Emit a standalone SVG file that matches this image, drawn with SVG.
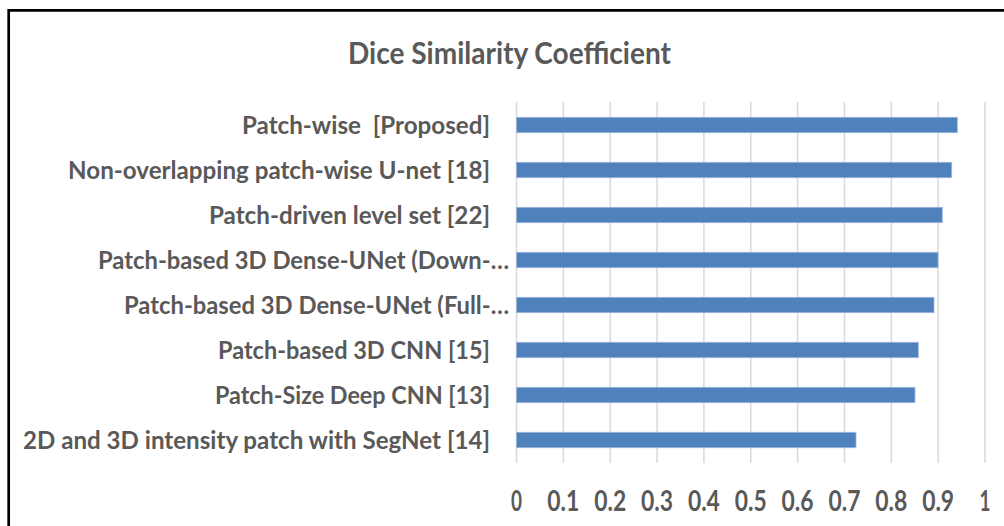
<svg xmlns="http://www.w3.org/2000/svg" width="1004" height="526" viewBox="0 0 1004 526">
  <style>
    .title { font-family: Lato, "Open Sans", "Liberation Sans", sans-serif; font-weight: 700; font-size: 30px; fill: #595959; }
    .cat { font-family: Lato, "Open Sans", "Liberation Sans", sans-serif; font-weight: 700; font-size: 25px; fill: #595959; text-anchor: end; }
    .tick { font-family: Lato, "Open Sans", "Liberation Sans", sans-serif; font-weight: 700; font-size: 28px; fill: #595959; text-anchor: middle; }
    .grid { stroke: #d9d9d9; stroke-width: 1.5; fill: none; }
    .bar { fill: #4f81bd; stroke: #9cb6dc; stroke-width: 0.8; }
    .frame { stroke: #000; stroke-width: 2.7; fill: none; }
  </style>

  <rect width="1004" height="526" fill="#fff"/>

  <!-- chart border: only the top and left edges fall inside the view -->
  <path class="frame" d="M8.7 530 V10.3 H1010"/>

  <text id="chart-title" class="title" x="509.5" y="63.5" text-anchor="middle" textLength="323" lengthAdjust="spacingAndGlyphs">Dice Similarity Coefficient</text>

  <!-- value axis gridlines, 0 to 1 in steps of 0.1 -->
  <g id="gridlines">
    <line class="grid" x1="516.5" y1="102" x2="516.5" y2="463"/>
    <line class="grid" x1="563.35" y1="102" x2="563.35" y2="463"/>
    <line class="grid" x1="610.2" y1="102" x2="610.2" y2="463"/>
    <line class="grid" x1="657.05" y1="102" x2="657.05" y2="463"/>
    <line class="grid" x1="703.9" y1="102" x2="703.9" y2="463"/>
    <line class="grid" x1="750.75" y1="102" x2="750.75" y2="463"/>
    <line class="grid" x1="797.6" y1="102" x2="797.6" y2="463"/>
    <line class="grid" x1="844.45" y1="102" x2="844.45" y2="463"/>
    <line class="grid" x1="891.3" y1="102" x2="891.3" y2="463"/>
    <line class="grid" x1="938.15" y1="102" x2="938.15" y2="463"/>
    <line class="grid" x1="985" y1="102" x2="985" y2="463"/>
  </g>

  <!-- one group per method: bar plus category label -->
  <g id="row-patch-wise">
    <rect class="bar" x="516.5" y="117.3" width="440.8" height="15.4"/>
    <text class="cat" x="490" y="133.5" xml:space="preserve" textLength="248" lengthAdjust="spacingAndGlyphs">Patch-wise  [Proposed]</text>
  </g>
  <g id="row-non-overlapping-unet">
    <rect class="bar" x="516.5" y="162.3" width="435.2" height="15.4"/>
    <text class="cat" x="490" y="178.5" textLength="422" lengthAdjust="spacingAndGlyphs">Non-overlapping patch-wise U-net [18]</text>
  </g>
  <g id="row-level-set">
    <rect class="bar" x="516.5" y="207.3" width="425.8" height="15.4"/>
    <text class="cat" x="490" y="223.5" textLength="281" lengthAdjust="spacingAndGlyphs">Patch-driven level set [22]</text>
  </g>
  <g id="row-dense-unet-down">
    <rect class="bar" x="516.5" y="252.3" width="421.5" height="15.4"/>
    <text class="cat" x="509" y="268.5" textLength="411" lengthAdjust="spacingAndGlyphs">Patch-based 3D Dense-UNet (Down-…</text>
  </g>
  <g id="row-dense-unet-full">
    <rect class="bar" x="516.5" y="297.3" width="417.5" height="15.4"/>
    <text class="cat" x="509" y="313.5" textLength="385" lengthAdjust="spacingAndGlyphs">Patch-based 3D Dense-UNet (Full-…</text>
  </g>
  <g id="row-3d-cnn">
    <rect class="bar" x="516.5" y="342.3" width="401.8" height="15.4"/>
    <text class="cat" x="490" y="358.5" textLength="272" lengthAdjust="spacingAndGlyphs">Patch-based 3D CNN [15]</text>
  </g>
  <g id="row-deep-cnn">
    <rect class="bar" x="516.5" y="387.3" width="398.5" height="15.4"/>
    <text class="cat" x="490" y="403.5" textLength="275" lengthAdjust="spacingAndGlyphs">Patch-Size Deep CNN [13]</text>
  </g>
  <g id="row-segnet">
    <rect class="bar" x="516.5" y="432.3" width="339.5" height="15.4"/>
    <text class="cat" x="490" y="448.5" textLength="467" lengthAdjust="spacingAndGlyphs">2D and 3D intensity patch with SegNet [14]</text>
  </g>

  <!-- value axis tick labels -->
  <g id="axis-labels">
    <text class="tick" x="516.5" y="510.5" textLength="11" lengthAdjust="spacingAndGlyphs">0</text>
    <text class="tick" x="563.35" y="510.5" textLength="32" lengthAdjust="spacingAndGlyphs">0.1</text>
    <text class="tick" x="610.2" y="510.5" textLength="32" lengthAdjust="spacingAndGlyphs">0.2</text>
    <text class="tick" x="657.05" y="510.5" textLength="32" lengthAdjust="spacingAndGlyphs">0.3</text>
    <text class="tick" x="703.9" y="510.5" textLength="32" lengthAdjust="spacingAndGlyphs">0.4</text>
    <text class="tick" x="750.75" y="510.5" textLength="32" lengthAdjust="spacingAndGlyphs">0.5</text>
    <text class="tick" x="797.6" y="510.5" textLength="32" lengthAdjust="spacingAndGlyphs">0.6</text>
    <text class="tick" x="844.45" y="510.5" textLength="32" lengthAdjust="spacingAndGlyphs">0.7</text>
    <text class="tick" x="891.3" y="510.5" textLength="32" lengthAdjust="spacingAndGlyphs">0.8</text>
    <text class="tick" x="938.15" y="510.5" textLength="32" lengthAdjust="spacingAndGlyphs">0.9</text>
    <text class="tick" x="985" y="510.5" textLength="11" lengthAdjust="spacingAndGlyphs">1</text>
  </g>
</svg>
